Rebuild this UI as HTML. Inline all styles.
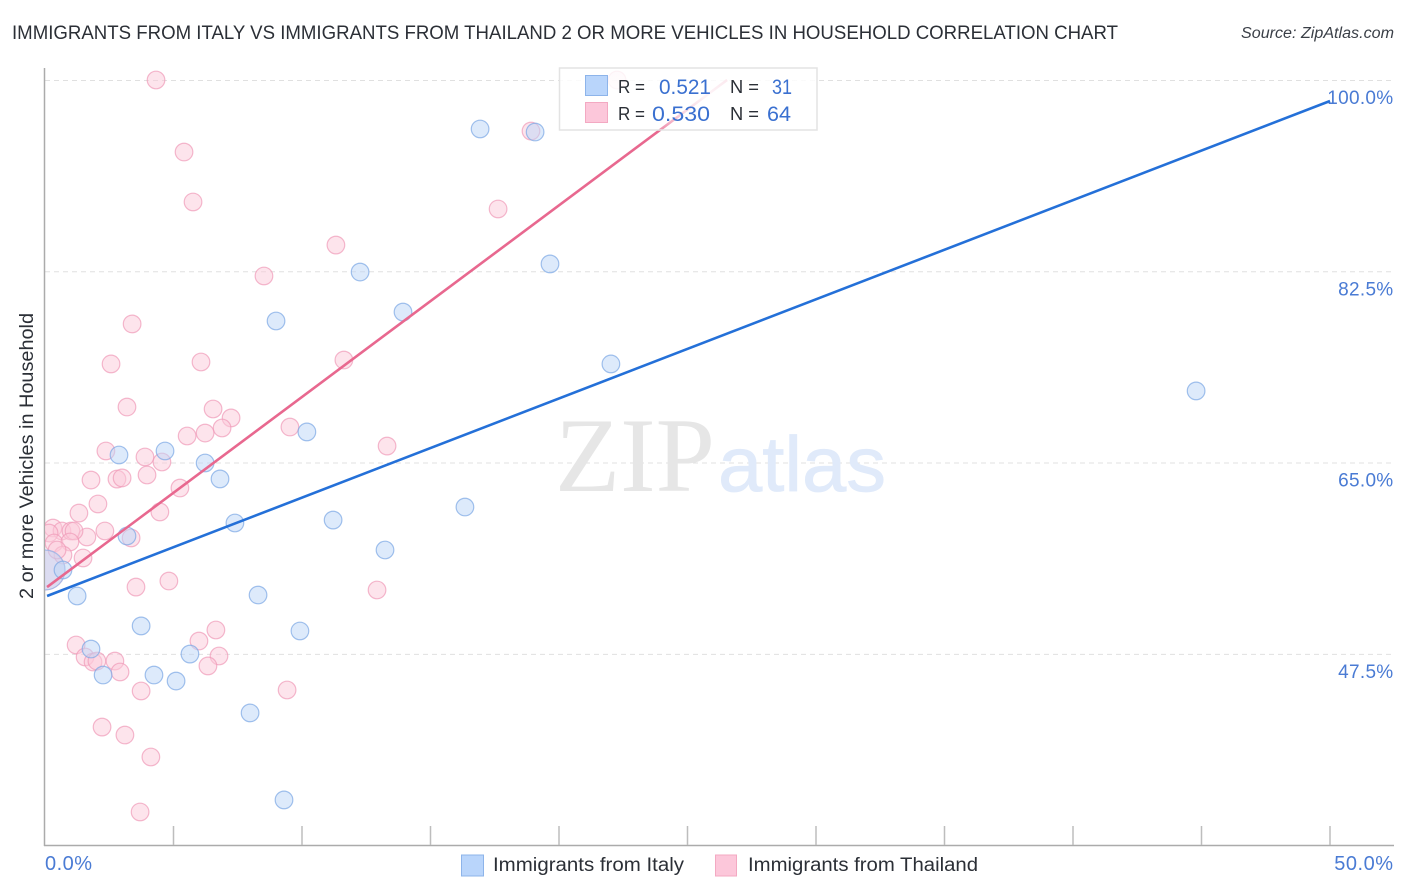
<!DOCTYPE html>
<html lang="en">
<head>
<meta charset="utf-8">
<title>Immigrants from Italy vs Immigrants from Thailand correlation chart</title>
<style>
html,body{margin:0;padding:0;background:#fff;}
svg{display:block;font-family:"Liberation Sans",sans-serif;}
</style>
</head>
<body>
<svg id="chart" xmlns="http://www.w3.org/2000/svg" width="1406" height="892" viewBox="0 0 1406 892">
  <defs>
    <clipPath id="plot-clip"><rect x="45" y="60" width="1349" height="785"/></clipPath>
    <linearGradient id="legend-fade" x1="0" y1="0" x2="0" y2="1">
      <stop offset="0" stop-color="#ffffff" stop-opacity="0.8"/>
      <stop offset="0.45" stop-color="#ffffff" stop-opacity="0.93"/>
      <stop offset="0.75" stop-color="#ffffff" stop-opacity="0.7"/>
      <stop offset="1" stop-color="#ffffff" stop-opacity="0.25"/>
    </linearGradient>
  </defs>
  <rect x="0" y="0" width="1406" height="892" fill="#ffffff"/>
  <text x="12" y="39" font-size="19.5" fill="#2b2f36" textLength="1106" lengthAdjust="spacingAndGlyphs">IMMIGRANTS FROM ITALY VS IMMIGRANTS FROM THAILAND 2 OR MORE VEHICLES IN HOUSEHOLD CORRELATION CHART</text>
  <text x="1241" y="38" font-size="15.5" font-style="italic" fill="#3a3f47" textLength="153" lengthAdjust="spacingAndGlyphs">Source: ZipAtlas.com</text>

  <g id="grid"></g>

  <g>
    <text x="555" y="491" font-family="'Liberation Serif',serif" font-size="106" fill="#e6e6e6" textLength="160" lengthAdjust="spacingAndGlyphs">ZIP</text>
    <text x="718" y="491" font-size="78" fill="#e0eafa" stroke="#e0eafa" stroke-width="0.8" textLength="168" lengthAdjust="spacingAndGlyphs">atlas</text>
  </g>

  <g id="axes">
    <line x1="44.5" y1="68" x2="44.5" y2="846" stroke="#ababab" stroke-width="1.5"/>
    <line x1="44" y1="845.5" x2="1394" y2="845.5" stroke="#ababab" stroke-width="1.5"/>
  </g>

  <g id="points" clip-path="url(#plot-clip)"></g>
  <g id="trends"></g>
  <g id="ticks"></g>

  <text transform="translate(33,599) rotate(-90)" font-size="19" fill="#2b2f36" textLength="286" lengthAdjust="spacingAndGlyphs">2 or more Vehicles in Household</text>

  <g>
    <rect x="559.5" y="68" width="257.5" height="62" fill="url(#legend-fade)" stroke="#e3e3e3" stroke-width="1.5"/>
    <rect x="585.5" y="75.5" width="22" height="20" fill="#b9d5fb" stroke="#8db4ea" stroke-width="1"/>
    <rect x="585.5" y="102.5" width="22" height="20" fill="#fcc7da" stroke="#f3a9c2" stroke-width="1"/>
    <text x="618" y="93" font-size="18" fill="#2b2f36" textLength="27" lengthAdjust="spacingAndGlyphs">R =</text>
    <text x="659" y="94" font-size="21" fill="#3a70d0" textLength="52" lengthAdjust="spacingAndGlyphs">0.521</text>
    <text x="730" y="93" font-size="18" fill="#2b2f36" textLength="29" lengthAdjust="spacingAndGlyphs">N =</text>
    <text x="772" y="94" font-size="21" fill="#3a70d0" textLength="20" lengthAdjust="spacingAndGlyphs">31</text>
    <text x="618" y="120" font-size="18" fill="#2b2f36" textLength="27" lengthAdjust="spacingAndGlyphs">R =</text>
    <text x="652" y="121" font-size="21" fill="#3a70d0" textLength="58" lengthAdjust="spacingAndGlyphs">0.530</text>
    <text x="730" y="120" font-size="18" fill="#2b2f36" textLength="29" lengthAdjust="spacingAndGlyphs">N =</text>
    <text x="767" y="121" font-size="21" fill="#3a70d0" textLength="24" lengthAdjust="spacingAndGlyphs">64</text>
  </g>

  <g>
    <rect x="461.5" y="855" width="22" height="21" fill="#b9d5fb" stroke="#8db4ea" stroke-width="1"/>
    <text x="493" y="871" font-size="19" fill="#2b2f36" textLength="191" lengthAdjust="spacingAndGlyphs">Immigrants from Italy</text>
    <rect x="715.5" y="855" width="21" height="21" fill="#fcc7da" stroke="#f3a9c2" stroke-width="1"/>
    <text x="748" y="871" font-size="19" fill="#2b2f36" textLength="230" lengthAdjust="spacingAndGlyphs">Immigrants from Thailand</text>
  </g>
</svg>
<script>
const italyX = [16.93,19.07,19.65,12.26,13.93,8.99,22.02,44.79,10.19,4.67,2.88,6.23,6.81,16.34,11.21,7.39,3.19,13.23,0.70,1.25,8.29,3.74,9.92,1.79,5.64,2.26,4.24,5.10,7.98,9.30];
const italyY = [95.52,95.24,83.17,82.43,78.77,77.95,74.02,71.55,67.80,66.06,65.69,64.96,63.50,60.93,59.74,59.47,58.28,57.00,55.17,52.79,52.88,50.05,49.59,47.94,47.48,45.56,45.56,45.01,42.09,34.13];
const italyClusterX = [0.0];
const italyClusterY = [55.17];
const thailandX = [4.32,5.41,5.76,18.91,17.63,11.32,8.52,3.39,2.57,6.07,11.63,3.19,6.54,7.24,6.89,6.23,5.53,9.53,13.31,2.37,3.89,4.55,3.97,1.79,2.80,3.00,5.25,2.06,1.32,4.47,2.33,1.63,3.35,0.31,0.66,1.01,1.13,0.16,0.35,0.97,0.70,0.47,1.48,3.54,4.82,12.92,6.65,5.99,1.21,1.56,1.87,2.02,2.72,2.92,6.77,6.34,3.74,9.42,2.22,3.11,4.12,3.70,22.26];
const thailandY = [100,93.41,88.84,95.33,88.20,84.90,82.07,77.68,74.02,74.20,74.38,70.08,69.90,69.08,68.16,67.70,67.43,68.25,66.51,66.06,65.51,65.05,63.86,63.40,63.49,63.59,62.67,61.21,60.38,60.48,58.74,58.19,58.10,59.01,58.74,58.74,58.74,58.55,57.64,57.73,56.54,57.00,56.27,53.61,54.16,53.34,49.68,48.67,48.31,47.21,46.75,46.84,46.84,45.84,47.30,46.39,44.10,44.19,40.80,40.07,38.06,33.03,100];
const thailandClusterX = [0.0];
const thailandClusterY = [55.17];
const italyTrendX = [0.08,50];
const italyTrendY = [52.79,98.08];
const thailandTrendX = [0.08,26.54];
const thailandTrendY = [53.61,100];
const yTickValues = [100,82.5,65,47.5];
const yTickLabels = ["100.0%","82.5%","65.0%","47.5%"];
const xTickValues = [5,10,15,20,25,30,35,40,45,50];
const xEndValues = [0,50];
const xEndLabels = ["0.0%","50.0%"];

const NS = "http://www.w3.org/2000/svg";
function xScale(v){ return 45 + v * 25.7; }
function yScale(v){ return 80 + (100 - v) * 10.93; }
function make(tag, attrs, parent){
  const el = document.createElementNS(NS, tag);
  for (const k in attrs) el.setAttribute(k, attrs[k]);
  parent.appendChild(el);
  return el;
}
const gridG = document.getElementById("grid");
const axesG = document.getElementById("axes");
const pointsG = document.getElementById("points");
const trendsG = document.getElementById("trends");
const ticksG = document.getElementById("ticks");

yTickValues.forEach(function(v, i){
  const y = yScale(v) + 0.5;
  const ln = make("line", {x1:45, y1:y, x2:1394, y2:y, stroke:"#e0e0e0", "stroke-width":1, "stroke-dasharray":"5 4"}, gridG);
  
  
  const t = make("text", {x:1393.5, y:yScale(v) + 24, "text-anchor":"end", "font-size":19, "letter-spacing":"0.3", fill:"#4a7bd4"}, ticksG);
  
  
  t.textContent = yTickLabels[i];
});
xTickValues.forEach(function(v){
  const x = xScale(v);
  const ln = make("line", {x1:x, y1:826, x2:x, y2:845, stroke:"#bdbdbd", "stroke-width":1.5}, axesG);
  
  
});
xEndValues.forEach(function(v, i){
  const t = make("text", {x:i === 0 ? xScale(v) : 1393.5, y:870, "text-anchor":i === 0 ? "start" : "end", "font-size":20, "letter-spacing":"0.5", fill:"#4a7bd4"}, ticksG);
  
  
  t.textContent = xEndLabels[i];
});

function drawSeries(xs, ys, r, fill, stroke, name){
  xs.forEach(function(v, i){
    const c = make("circle", {cx:xScale(v), cy:yScale(ys[i]), r:r, fill:fill, "fill-opacity":0.5, stroke:stroke, "stroke-opacity":0.7, "stroke-width":1.2}, pointsG);
    
    
  });
}
drawSeries(thailandClusterX, thailandClusterY, 20, "#f9c6d8", "#f3a9c2", "point-thailand-cluster");
drawSeries(thailandX, thailandY, 8.8, "#fbc9da", "#f09ab8", "point-thailand");
drawSeries(italyClusterX, italyClusterY, 20, "#bcd5f7", "#8db4ea", "point-italy-cluster");
drawSeries(italyX, italyY, 8.8, "#bcd5f7", "#7aa6e4", "point-italy");

const italyLine = make("line", {x1:xScale(italyTrendX[0]), y1:yScale(italyTrendY[0]), x2:xScale(italyTrendX[1]), y2:yScale(italyTrendY[1]), stroke:"#2470d8", "stroke-width":2.6}, trendsG);


const thailandLine = make("line", {x1:xScale(thailandTrendX[0]), y1:yScale(thailandTrendY[0]), x2:xScale(thailandTrendX[1]), y2:yScale(thailandTrendY[1]), stroke:"#e8688f", "stroke-width":2.6}, trendsG);


</script>
</body>
</html>
